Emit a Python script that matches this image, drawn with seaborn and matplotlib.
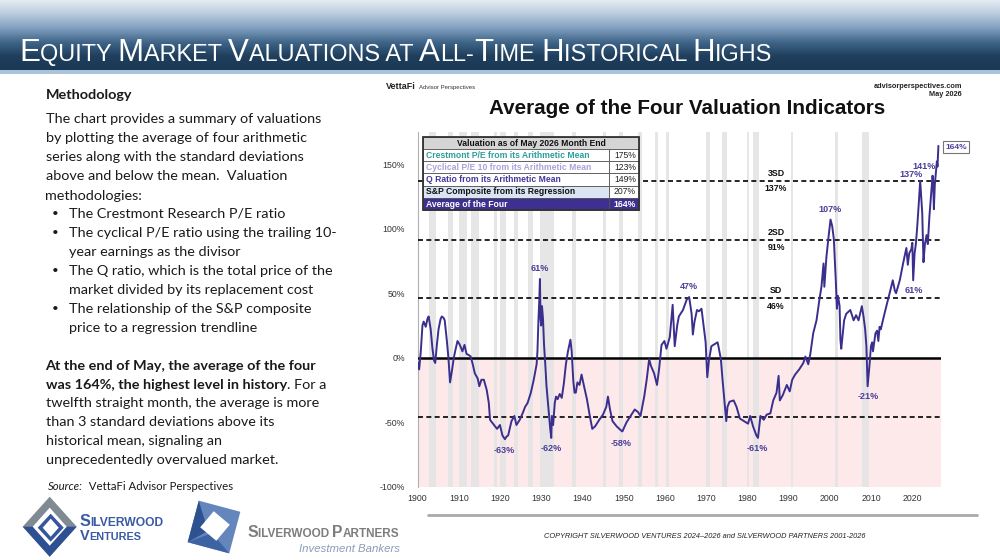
import numpy as np
import pandas as pd
import matplotlib
matplotlib.use("Agg")
import matplotlib.pyplot as plt
import seaborn as sns
from matplotlib.patches import Rectangle, Polygon
from matplotlib.lines import Line2D
from matplotlib.colors import LinearSegmentedColormap
from matplotlib import font_manager

# ---------------- data ----------------
avg_years = [1900.0, 1900.4, 1900.8, 1901.2, 1901.5, 1902.0, 1902.4, 1902.7, 1903.2, 1903.6,
             1904.0, 1904.3, 1904.7, 1905.1, 1905.6, 1905.9, 1906.3, 1906.6, 1907.1, 1907.5,
             1907.9, 1908.4, 1908.8, 1909.2, 1909.7, 1910.1, 1910.4, 1910.9, 1911.4, 1911.9,
             1912.5, 1912.9, 1913.4, 1913.9, 1914.6, 1915.0, 1915.5, 1916.1, 1916.8, 1917.3,
             1917.6, 1918.3, 1918.8, 1919.3, 1920.0, 1920.6, 1921.2, 1921.6, 1922.0, 1922.8,
             1923.5, 1924.0, 1924.4, 1924.8, 1925.5, 1926.1, 1926.7, 1927.5, 1928.2, 1928.6,
             1928.9, 1929.1, 1929.35, 1929.55, 1929.7, 1929.85, 1930.0, 1930.2, 1930.45, 1930.7,
             1931.0, 1931.3, 1931.8, 1932.2, 1932.45, 1932.6, 1932.9, 1933.3, 1933.6, 1934.0,
             1934.5, 1935.0, 1935.5, 1936.0, 1936.5, 1937.1, 1937.4, 1937.8, 1938.1, 1938.4,
             1938.8, 1939.3, 1939.8, 1940.4, 1941.1, 1941.8, 1942.4, 1943.1, 1944.1, 1945.0,
             1945.8, 1946.2, 1946.7, 1947.3, 1948.3, 1949.3, 1949.7, 1950.7, 1951.7, 1952.7,
             1953.5, 1954.1, 1955.0, 1955.6, 1956.2, 1956.6, 1957.4, 1958.1, 1958.6, 1959.2,
             1959.9, 1960.4, 1961.2, 1961.9, 1962.4, 1963.0, 1963.4, 1964.4, 1965.3, 1965.9,
             1966.5, 1966.8, 1967.2, 1967.8, 1968.3, 1968.9, 1969.4, 1969.9, 1970.3, 1970.7,
             1971.3, 1972.3, 1972.8, 1973.0, 1973.6, 1974.0, 1974.5, 1974.9, 1975.2, 1975.7,
             1976.7, 1977.4, 1978.2, 1979.2, 1980.2, 1980.7, 1981.4, 1982.2, 1982.6, 1983.2,
             1984.0, 1984.7, 1985.6, 1986.3, 1987.1, 1987.6, 1987.9, 1988.6, 1989.6, 1990.3,
             1990.9, 1991.6, 1992.6, 1993.6, 1994.1, 1994.8, 1995.3, 1996.0, 1996.8, 1997.5,
             1998.0, 1998.5, 1998.7, 1999.2, 1999.8, 2000.2, 2000.6, 2001.0, 2001.5, 2001.75,
             2002.0, 2002.4, 2002.6, 2002.8, 2003.5, 2004.0, 2005.0, 2005.8, 2006.4, 2007.0,
             2007.5, 2007.8, 2008.2, 2008.6, 2008.9, 2009.2, 2009.7, 2010.0, 2010.3, 2010.5,
             2011.1, 2011.5, 2011.8, 2012.1, 2012.4, 2012.9, 2013.9, 2014.7, 2015.3, 2015.8,
             2016.1, 2017.0, 2017.8, 2018.6, 2018.95, 2019.3, 2019.8, 2020.05, 2020.25, 2020.6,
             2020.9, 2021.2, 2021.6, 2021.95, 2022.45, 2022.75, 2023.1, 2023.5, 2023.8, 2024.2,
             2024.5, 2024.95, 2025.1, 2025.27, 2025.5, 2025.8, 2026.0, 2026.15, 2026.37]
avg_values = [-3, -9, 5, 25, 28, 24, 30, 32, 22, 8,
              -2, -4, 10, 22, 30, 32, 31, 29, 14, 0,
              -19, -9, 0, 6, 13, 11, 9, 5, 10, 3,
              2, 1, -5, -12, -16, -22, -17, -17, -25, -35,
              -48, -51, -53, -55, -52, -60, -63, -61, -60, -49,
              -45, -52, -50, -48, -43, -38, -35, -27, -17, -10,
              -5, 5, 30, 45, 61, 30, 25, 40, 30, 10,
              -5, -22, -40, -55, -62, -45, -52, -35, -30, -32,
              -28, -31, -20, -5, 5, 14, 5, -18, -27, -27,
              -19, -21, -13, -22, -32, -45, -55, -53, -48, -44,
              -38, -30, -40, -49, -53, -56, -57, -50, -45, -40,
              -42, -45, -30, -17, -1, -6, -12, -21, -9, 10,
              13, 7, 16, 41, 9, 25, 32, 37, 45, 47,
              34, 18, 28, 37, 36, 38, 25, 12, -15, -2,
              9, 11, 12, 9, -1, -17, -35, -49, -38, -34,
              -33, -38, -47, -49, -51, -45, -53, -60, -62, -45,
              -48, -44, -43, -33, -27, -14, -33, -29, -21, -26,
              -17, -13, -9, -4, 1, -5, 3, 19, 29, 45,
              55, 73, 55, 78, 96, 107, 102, 92, 58, 38,
              48, 40, 14, 7, 29, 34, 37, 29, 33, 29,
              36, 40, 32, 22, 9, -22, -4, 9, 12, 5,
              19, 21, 13, 24, 22, 29, 42, 52, 60, 52,
              50, 60, 73, 85, 72, 81, 84, 89, 60, 81,
              88, 100, 119, 137, 112, 74, 88, 95, 88, 110,
              122, 141, 136, 115, 134, 145, 152, 148, 164]

rec_start = [1902.7, 1907.4, 1910.0, 1913.0, 1918.6, 1920.0, 1923.4, 1926.8, 1929.6, 1937.4,
             1945.1, 1948.9, 1953.5, 1957.6, 1960.3, 1969.9, 1973.9, 1980.0, 1981.5, 1990.5,
             2001.2, 2007.9, 2020.1]
rec_end = [1904.6, 1908.5, 1912.0, 1914.9, 1919.2, 1921.5, 1924.5, 1927.9, 1933.2, 1938.5,
           1945.8, 1949.8, 1954.4, 1958.3, 1961.1, 1970.9, 1975.2, 1980.5, 1982.9, 1991.2,
           2001.9, 2009.5, 2020.3]

sd_names = ["3SD", "2SD", "SD"]
sd_levels = [137, 91, 46]
neg_sd = -46

y_ticks = [-100, -50, 0, 50, 100, 150]
x_ticks = list(range(1900, 2021, 10))

peak_labels = ["61%", "47%", "107%", "137%", "141%", "61%"]
peak_x = [1929.7, 1965.9, 2000.2, 2019.7, 2022.9, 2020.3]
peak_y = [69, 55, 115, 141.5, 148, 52]
trough_labels = ["-63%", "-62%", "-58%", "-61%", "-21%"]
trough_x = [1921.0, 1932.5, 1949.5, 1982.5, 2009.4]
trough_y = [-72, -70.5, -66, -70, -30]

table_title = "Valuation as of May 2026 Month End"
table_labels = ["Crestmont P/E from its Arithmetic Mean", "Cyclical P/E 10 from its Arithmetic Mean",
                "Q Ratio from its Arithmetic Mean", "S&P Composite from its Regression",
                "Average of the Four"]
table_values = ["175%", "123%", "149%", "207%", "164%"]

# ---------------- setup ----------------
W, H = 1000, 560
sns.set_theme(style="white")
plt.rcParams["font.family"] = ["Liberation Sans", "DejaVu Sans"]
names = {f.name for f in font_manager.fontManager.ttflist}
NARROW = "Liberation Sans Narrow" if "Liberation Sans Narrow" in names else "Liberation Sans"
BODY = "Lato" if "Lato" in names else "DejaVu Sans"

fig = plt.figure(figsize=(W / 100, H / 100), dpi=100)
fig.patch.set_facecolor("white")
R = fig.canvas.get_renderer()

def fx(x):
    return x / W

def fy(y):
    return 1 - y / H

def T(x, y, s, **kw):
    return fig.text(fx(x), fy(y), s, **kw)

def tw(s, props):
    t = fig.text(0, 0, "|" + s + "|", **props)
    w1 = t.get_window_extent(R).width
    t.set_text("||")
    w2 = t.get_window_extent(R).width
    t.remove()
    return w1 - w2

def run_line(x, y, runs, target=None, ha="left"):
    runs = [(s, dict(p)) for s, p in runs]
    ws = [tw(s, p) for s, p in runs]
    tot = sum(ws)
    if target is not None:
        f = target / tot
        for s, p in runs:
            p["fontsize"] = p["fontsize"] * f
        ws = [tw(s, p) for s, p in runs]
        tot = sum(ws)
    cx = x if ha == "left" else (x - tot if ha == "right" else x - tot / 2)
    objs = []
    for (s, p), w in zip(runs, ws):
        objs.append(T(cx, y, s, va="baseline", ha="left", **p))
        cx += w
    return objs, runs

def fit_size(s, props, target):
    w = tw(s, props)
    return props["fontsize"] * target / w

def rect(x0, y0, x1, y1, **kw):
    r = Rectangle((fx(x0), fy(y1)), (x1 - x0) / W, (y1 - y0) / H, transform=fig.transFigure, **kw)
    fig.patches.append(r)
    return r

def poly(pts, **kw):
    p = Polygon([(fx(a), fy(b)) for a, b in pts], closed=True, transform=fig.transFigure, **kw)
    fig.patches.append(p)
    return p

# ---------------- banner ----------------
bax = fig.add_axes([0, fy(70), 1, 70 / H])
grad = np.linspace(0, 1, 256).reshape(-1, 1)
cmap = LinearSegmentedColormap.from_list("ban", ["#e4ecf3", "#b8cbdd", "#81a0c0", "#406689", "#1f3f5d", "#1a3855"])
bax.imshow(grad, aspect="auto", cmap=cmap, extent=[0, 1, 0, 1])
bax.set_axis_off()
rect(0, 70, 1000, 74, facecolor="#a9c3db", edgecolor="none")

big = dict(fontsize=20, color="white", family=NARROW)
small = dict(fontsize=15, color="white", family=NARROW)
title_runs = [("E", big), ("QUITY ", small), ("M", big), ("ARKET ", small), ("V", big),
              ("ALUATIONS AT ", small), ("A", big), ("LL-", small), ("T", big), ("IME ", small),
              ("H", big), ("ISTORICAL ", small), ("H", big), ("IGHS", small)]
run_line(19, 61, title_runs, target=756)

# ---------------- left text ----------------
reg = dict(fontsize=11, color="#1a1a1a", family=BODY)
fs = fit_size("The chart provides a summary of valuations", reg, 276)
reg["fontsize"] = fs
bold = dict(reg, fontweight="bold")
T(45.5, 99, "Methodology", va="baseline", **bold)
para = ["The chart provides a summary of valuations",
        "by plotting the average of four arithmetic",
        "series along with the standard deviations",
        "above and below the mean.  Valuation",
        "methodologies:"]
para_y = [123, 142.3, 161.3, 180.3, 199.7]
for s, yy in zip(para, para_y):
    T(45.5, yy, s, va="baseline", **reg)
bullets = [("The Crestmont Research P/E ratio", True, 217.3),
           ("The cyclical P/E ratio using the trailing 10-", True, 237),
           ("year earnings as the divisor", False, 255.7),
           ("The Q ratio, which is the total price of the", True, 275),
           ("market divided by its replacement cost", False, 294),
           ("The relationship of the S&P composite", True, 312.7),
           ("price to a regression trendline", False, 331.7)]
bul = dict(reg, fontsize=fs * 0.8)
for s, b, yy in bullets:
    if b:
        T(52, yy - 0.5, "•", va="baseline", **bul)
    T(69, yy, s, va="baseline", **reg)

T(45.5, 370, "At the end of May, the average of the four", va="baseline", **bold)
run_line(45.5, 389, [("was 164%, the highest level in history", bold), (". For a", reg)])
for s, yy in [("twelfth straight month, the average is more", 407.3),
              ("than 3 standard deviations above its", 425.7),
              ("historical mean, signaling an", 444.7),
              ("unprecedentedly overvalued market.", 464)]:
    T(45.5, yy, s, va="baseline", **reg)
src_reg = dict(reg, fontsize=fs * 0.85)
src_it = dict(src_reg, style="italic")
run_line(48, 489.5, [("Source:", src_it), ("  VettaFi Advisor Perspectives", src_reg)], target=185)

# ---------------- logos ----------------
cx, cy = 49.7, 526.7
poly([(cx - 27, cy), (cx, cy - 30), (cx + 27, cy), (cx, cy + 30)], facecolor="#7f8a93", edgecolor="none")
poly([(cx - 27, cy), (cx, cy + 30), (cx + 27, cy), (cx + 13, cy), (cx, cy + 15), (cx - 13, cy)],
     facecolor="#2f4f93", edgecolor="none")
poly([(cx - 17, cy), (cx, cy - 19), (cx + 17, cy), (cx, cy + 19)], facecolor="white", edgecolor="none")
poly([(cx - 12, cy + 1), (cx + 1, cy - 13), (cx + 14, cy + 1), (cx + 1, cy + 15)], facecolor="#35559c", edgecolor="none")
poly([(cx - 7, cy + 1), (cx + 1, cy - 8), (cx + 9, cy + 1), (cx + 1, cy + 10)], facecolor="white", edgecolor="none")

logo_b = dict(fontsize=12, color="#3a5aa4", family="Liberation Sans", fontweight="bold")
logo_s = dict(logo_b, fontsize=9)
run_line(79.5, 525.5, [("S", logo_b), ("ILVERWOOD", logo_s)], target=85)
run_line(79.5, 540.5, [("V", logo_b), ("ENTURES", logo_s)], target=62)

pc = (214, 527)
ang = np.deg2rad(15)
def sq(c, s, a):
    pts = []
    for dx, dy in [(-1, -1), (1, -1), (1, 1), (-1, 1)]:
        x = dx * s / 2
        y = dy * s / 2
        pts.append((c[0] + x * np.cos(a) - y * np.sin(a), c[1] + x * np.sin(a) + y * np.cos(a)))
    return pts
poly(sq(pc, 43, ang), facecolor="#6486bd", edgecolor="none")
outer = sq(pc, 43, ang)
poly([outer[3], outer[0], (pc[0] - 6, pc[1] + 4)], facecolor="#2e5190", edgecolor="none")
poly([outer[2], outer[3], (pc[0] - 2, pc[1] + 6)], facecolor="#3e63a3", edgecolor="none")
poly(sq((pc[0] + 1, pc[1] - 1), 21, np.deg2rad(40)), facecolor="white", edgecolor="none")

pb = dict(fontsize=12, color="#7d7d7d", family="Liberation Sans", fontweight="bold")
ps = dict(pb, fontsize=9)
run_line(247, 537, [("S", pb), ("ILVERWOOD ", ps), ("P", pb), ("ARTNERS", ps)], target=153)
T(400, 551.5, "Investment Bankers", ha="right", va="baseline", fontsize=8.2, style="italic",
  color="#8a9cb6", family="Liberation Sans")

# ---------------- chart header texts ----------------
T(386, 89, "VettaFi", va="baseline", fontsize=6.5, fontweight="bold", color="#222")
T(419, 89, "Advisor Perspectives", va="baseline", fontsize=4.3, color="#333")
T(962, 88.5, "advisorperspectives.com", ha="right", va="baseline", fontsize=5.3, fontweight="bold", color="#222")
T(962, 96, "May 2026", ha="right", va="baseline", fontsize=5.3, fontweight="bold", color="#222")
tprops = dict(fontsize=15, fontweight="bold", color="#111", family="Liberation Sans")
tprops["fontsize"] = fit_size("Average of the Four Valuation Indicators", tprops, 398)
T(687, 113.5, "Average of the Four Valuation Indicators", ha="center", va="baseline", **tprops)

# ---------------- chart ----------------
LINE = "#3b2f8e"
ax = fig.add_axes([fx(417.5), fy(487), 523.5 / W, 355.3 / H])
ax.set_facecolor("white")
ax.axhspan(-100, 0, color="#fde9e9", zorder=0, lw=0)
for s, e in zip(rec_start, rec_end):
    ax.axvspan(s, e, color="#e4e4e4", alpha=0.9, zorder=1, lw=0)
for v in sd_levels + [neg_sd]:
    ax.axhline(v, color="black", ls=(0, (3, 2)), lw=1.2, zorder=3)
ax.axhline(0, color="black", lw=1.8, zorder=4)

df = pd.DataFrame({"year": avg_years, "value": avg_values})
sns.lineplot(data=df, x="year", y="value", ax=ax, color=LINE, lw=1.4, zorder=5)

ax.set_xlim(1900, 2027)
ax.set_ylim(-100, 175)
ax.set_xlabel("")
ax.set_ylabel("")
ax.set_yticks(y_ticks)
ax.set_yticklabels([f"{v}%" for v in y_ticks])
ax.set_xticks(x_ticks)
ax.set_xticklabels([str(v) for v in x_ticks])
ax.tick_params(axis="y", length=0, pad=9, labelsize=6.3, labelcolor="#333")
ax.tick_params(axis="x", length=0, pad=5, labelsize=6.3, labelcolor="#333")
for sp in ["top", "right", "bottom"]:
    ax.spines[sp].set_visible(False)
ax.spines["left"].set_color("#b0b0b0")
ax.spines["left"].set_linewidth(0.8)
ax.grid(False)

for n, v in zip(sd_names, sd_levels):
    ax.annotate(n, (1987, v), xytext=(0, 5.5), textcoords="offset points", ha="center", va="center",
                fontsize=6.3, fontweight="bold", color="#111", zorder=6)
    ax.annotate(f"{v}%", (1987, v), xytext=(0, -5.5), textcoords="offset points", ha="center", va="center",
                fontsize=6.3, fontweight="bold", color="#111", zorder=6)

for s, xx, yy in zip(peak_labels, peak_x, peak_y):
    ax.text(xx, yy, s, ha="center", va="center", fontsize=6.5, fontweight="bold", color="#4a3f9a", zorder=6)
for s, xx, yy in zip(trough_labels, trough_x, trough_y):
    ax.text(xx, yy, s, ha="center", va="center", fontsize=6.5, fontweight="bold", color="#4a3f9a", zorder=6)
ax.text(2030.6, 163, "164%", ha="center", va="center", fontsize=6.0, fontweight="bold", color="#4a3f9a",
        clip_on=False, zorder=7,
        bbox=dict(boxstyle="square,pad=0.3", fc="white", ec="#777777", lw=0.8))

# ---------------- table ----------------
tx0, tx1, txv = 423, 639, 609
rows_y = [137, 149, 161.2, 173.4, 185.6, 197.8, 210]
hdr = dict(fontsize=7, fontweight="bold", color="#111", family="Liberation Sans")
hdr["fontsize"] = fit_size(table_title, hdr, 150)
tfs = hdr["fontsize"]
rect(tx0, rows_y[0], tx1, rows_y[1], facecolor="#d5d5d5", edgecolor="#555", lw=0.6, zorder=8)
T((tx0 + tx1) / 2, (rows_y[0] + rows_y[1]) / 2 + 0.3, table_title, ha="center", va="center", zorder=9, **hdr)
label_colors = ["#2b9e9e", "#aaa2dc", "#45379a", "#111111", "white"]
label_bgs = ["white", "white", "white", "#dae4f2", "#3e3090"]
value_bgs = ["white", "white", "white", "white", "#3e3090"]
value_colors = ["#222", "#222", "#222", "#222", "white"]
for i in range(5):
    y0, y1 = rows_y[i + 1], rows_y[i + 2]
    rect(tx0, y0, txv, y1, facecolor=label_bgs[i], edgecolor="#555", lw=0.6, zorder=8)
    rect(txv, y0, tx1, y1, facecolor=value_bgs[i], edgecolor="#555", lw=0.6, zorder=8)
    T(tx0 + 3, (y0 + y1) / 2 + 0.3, table_labels[i], ha="left", va="center", fontsize=tfs,
      fontweight="bold", color=label_colors[i], family="Liberation Sans", zorder=9)
    T(tx1 - 3, (y0 + y1) / 2 + 0.3, table_values[i], ha="right", va="center", fontsize=tfs,
      fontweight="bold" if i == 4 else "normal", color=value_colors[i], family="Liberation Sans", zorder=9)
rect(tx0, rows_y[0], tx1, rows_y[-1], facecolor="none", edgecolor="#333", lw=1.3, zorder=10)

# ---------------- footer ----------------
fig.add_artist(Line2D([fx(428), fx(977)], [fy(515), fy(515)], color="#a9a9a9", lw=2, transform=fig.transFigure))
cp = dict(fontsize=6, style="italic", color="#222", family="Liberation Sans")
cp["fontsize"] = fit_size("COPYRIGHT SILVERWOOD VENTURES 2024\u20132026 and SILVERWOOD PARTNERS 2001-2026", cp, 322)
T(544, 538, "COPYRIGHT SILVERWOOD VENTURES 2024\u20132026 and SILVERWOOD PARTNERS 2001-2026", va="baseline", **cp)

fig.savefig("out.png", dpi=100, facecolor="white")
